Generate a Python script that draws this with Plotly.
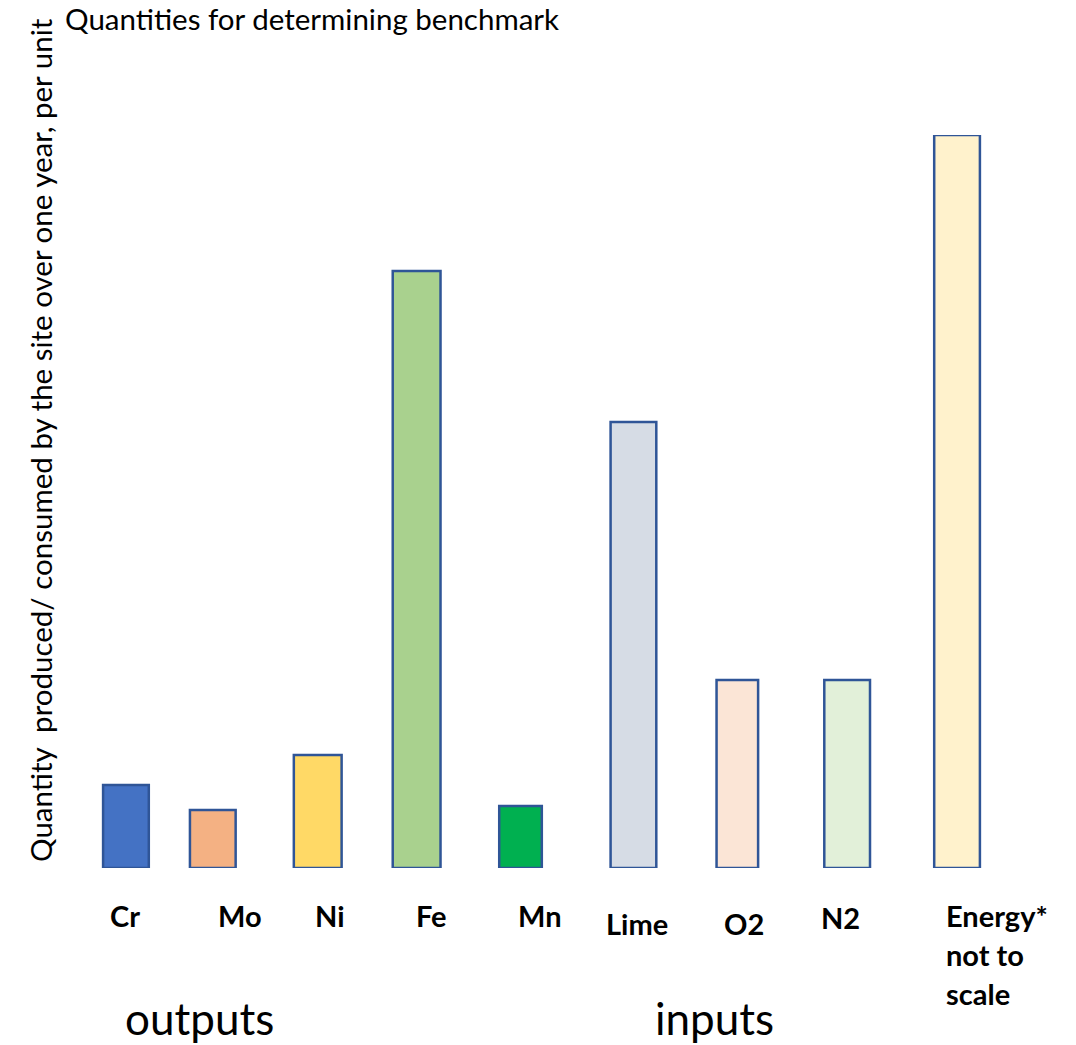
import plotly.graph_objects as go

categories = ["Cr", "Mo", "Ni", "Fe", "Mn", "Lime", "O2", "N2", "Energy*"]
tick_labels = ["Cr", "Mo", "Ni", "Fe", "Mn", "Lime", "O2", "N2", "Energy*<br>not to<br>scale"]
values = [83, 58, 113, 597, 62, 446, 188, 188, 733]
colors = ["#4472C4", "#F4B183", "#FFD966", "#A9D18E", "#00B050",
          "#D6DCE5", "#FBE5D6", "#E2F0D9", "#FFF2CC"]
group_labels = ["outputs", "inputs"]

W, H = 1076, 1045
L, R, T, B = 74, 67, 135, 177

# style: hand-drawn look, bars not perfectly evenly spaced
bar_widths = [0.44, 0.44, 0.46, 0.46, 0.41, 0.44, 0.40, 0.44, 0.44]
bar_shift = [0.0, -0.164, -0.154, -0.202, -0.202, -0.115, -0.115, -0.058, 0.0]
bar_offsets = [s - w / 2 for s, w in zip(bar_shift, bar_widths)]

fig = go.Figure()
fig.add_trace(go.Bar(
    x=categories, y=values,
    marker=dict(color=colors, line=dict(color="#2F5597", width=2.5)),
    width=bar_widths, offset=bar_offsets, hoverinfo="x+y", showlegend=False,
))

FONT = "Lato"
label_shift_x = [-1, 10, -4, -6, -2, -8, -5, -13, -13]
label_shift_y = [-47, -47, -47, -47, -47, -55, -55, -49, -47]
ann = []
for cat, lab, dx, dy in zip(categories, tick_labels, label_shift_x, label_shift_y):
    lines = lab.split("<br>")
    if len(lines) == 1:
        ann.append(dict(x=cat, xref="x", y=0, yref="paper", text="<b>%s</b>" % lab,
                        showarrow=False, xanchor="center", yanchor="middle",
                        xshift=dx, yshift=dy,
                        font=dict(family=FONT, size=29, color="#000")))
    else:
        for i, ln in enumerate(lines):
            ann.append(dict(x=cat, xref="x", y=0, yref="paper", text="<b>%s</b>" % ln,
                            showarrow=False, xanchor="left", yanchor="middle",
                            xshift=dx, yshift=dy - i * 39,
                            font=dict(family=FONT, size=29, color="#000")))

# group labels
for lab, xp in zip(group_labels, [(199 - L) / (W - L - R), (714 - L) / (W - L - R)]):
    ann.append(dict(x=xp, xref="paper", y=0, yref="paper", text=lab, showarrow=False,
                    xanchor="center", yanchor="middle", yshift=-150,
                    font=dict(family=FONT, size=44, color="#000")))

# y axis title
ann.append(dict(x=0, xref="paper", y=(868 - 440) / (H - T - B), yref="paper",
                text="Quantity  produced/ consumed by the site over one year, per unit",
                textangle=-90, showarrow=False, xanchor="center", yanchor="middle",
                xshift=-34, font=dict(family=FONT, size=29.5, color="#000")))

fig.update_layout(
    width=W, height=H,
    margin=dict(l=L, r=R, t=T, b=B),
    paper_bgcolor="white", plot_bgcolor="white",
    title=dict(text="Quantities for determining benchmark", x=65 / W, xref="container",
               xanchor="left", y=1 - 20 / H, yref="container", yanchor="middle",
               font=dict(family=FONT, size=29.5, color="#000")),
    xaxis=dict(showticklabels=False, showgrid=False, zeroline=False, showline=False,
               ticks="", range=[-0.5, 8.5]),
    yaxis=dict(showticklabels=False, showgrid=False, zeroline=False, showline=False,
               ticks="", range=[0, 733]),
    annotations=ann,
)

fig.write_html("out.html", config={"displayModeBar": False},
               post_script="document.body.style.margin='0';document.body.style.overflow='hidden';")
